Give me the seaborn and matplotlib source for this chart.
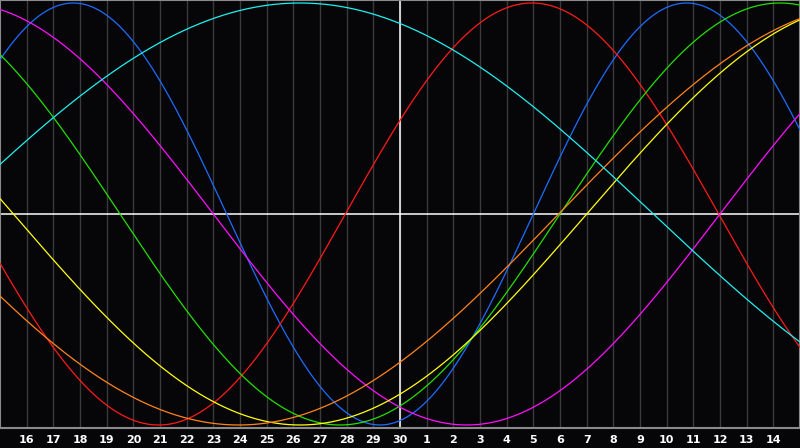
import numpy as np
import pandas as pd
import seaborn as sns
import matplotlib.pyplot as plt

# biorhythm cycles (day 0 = left edge = the 15th)
cycle_names = ['physical', 'emotional', 'intellectual', 'intuitive',
               'aesthetic', 'awareness', 'spiritual']
periods = [23, 28, 33, 38, 43, 48, 53]
# day at which each curve crosses zero going up
zero_up = [20.0, 12.95, 21.0, 27.0, 22.0, 20.95, -2.0]
colors = ['#1e6cff', '#ff1a1a', '#22e000', '#ff10ff', '#ffff10', '#ff8418', '#20f0f0']

day_labels = [str(d) for d in range(16, 31)] + [str(d) for d in range(1, 15)]
n_days = 30

bg = '#060609'
sns.set_theme(style='dark')
plt.rcParams['font.family'] = ['DejaVu Sans']

t = np.linspace(0, n_days, 901)
rows = []
for name, p, z in zip(cycle_names, periods, zero_up):
    rows.append(pd.DataFrame({'day': t, 'value': np.sin(2 * np.pi * (t - z) / p), 'cycle': name}))
df = pd.concat(rows, ignore_index=True)

fig = plt.figure(figsize=(8, 4.48), dpi=100, facecolor=bg)
ax = fig.add_axes([0, 20 / 448, 1, 428 / 448])
ax.set_facecolor(bg)

for d in range(1, n_days):
    ax.axvline(d, color='#3a3a3a', lw=1.0, zorder=1)
ax.axvline(15, color='white', lw=1.1, zorder=2)
ax.axhline(0, color='white', lw=1.1, zorder=2)

sns.lineplot(data=df, x='day', y='value', hue='cycle', palette=dict(zip(cycle_names, colors)),
             hue_order=cycle_names, lw=0.9, legend=False, ax=ax, zorder=3)

ax.set_xlim(0, n_days)
ax.set_ylim(-214 / 211, 214 / 211)
ax.set_xticks(range(1, n_days))
ax.set_xticklabels(day_labels, color='white', fontsize=8, fontweight='bold')
ax.tick_params(axis='x', length=0, pad=5)
ax.set_yticks([])
ax.set_xlabel('')
ax.set_ylabel('')
ax.grid(False)
for s in ax.spines.values():
    s.set_visible(True)
    s.set_color('#8a8a8a')
    s.set_linewidth(1.5)

fig.savefig('out.png', dpi=100, facecolor=bg)
